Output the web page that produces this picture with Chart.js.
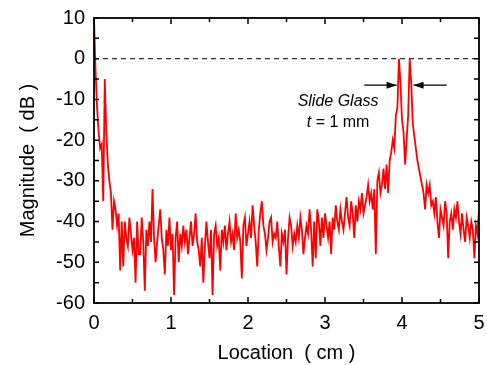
<!DOCTYPE html>
<html>
<head>
<meta charset="utf-8">
<script src="https://cdn.jsdelivr.net/npm/chart.js@4"></script>
<style>
html, body { margin: 0; padding: 0; background: #fff; }
#wrap { width: 487px; height: 365px; }
</style>
</head>
<body>
<div id="wrap"><canvas id="chart" width="487" height="365"></canvas></div>
<script>
// sample spacing along the scan (cm)
const step = 0.02;

// magnitude in dB, one value every 0.02 cm from 0 to 5 cm
const magnitude = [
  10, -3, -12, -18, -22, -21, -35, -5, -18, -26,
  -30, -33, -42, -35, -37, -41, -38, -52, -40, -51,
  -40, -44, -46, -39, -43, -47, -44, -55, -40, -48,
  -48, -39, -45, -57, -42, -46, -40, -45, -32, -44,
  -50, -45, -41, -37, -44, -47, -53, -42, -46, -39,
  -47, -43, -58, -44, -40, -50, -43, -46, -41, -45,
  -42, -48, -44, -40, -46, -43, -38, -45, -47, -51,
  -44, -55, -46, -40, -45, -49, -42, -58, -43, -41,
  -46, -44, -52, -42, -45, -41, -47, -43, -40, -45,
  -43, -47, -38, -44, -42, -45, -54, -41, -39, -46,
  -43, -40, -44, -36, -41, -45, -51, -42, -38, -35,
  -41, -43, -47, -44, -40, -39, -45, -43, -44, -40,
  -46, -51, -43, -45, -42, -53, -44, -39, -41, -46,
  -43, -45, -41, -44, -39, -42, -48, -44, -41, -43,
  -37, -42, -51, -40, -49, -37, -40, -46, -39, -44,
  -38, -41, -44, -40, -48, -39, -42, -36, -40, -42,
  -37, -40, -42, -38, -34, -39, -41, -35, -38, -44,
  -36, -40, -35, -37, -33, -38, -36, -34, -31, -35,
  -33, -37, -32, -48, -30, -28, -33, -31, -27, -32,
  -26, -33, -25, -23, -20, -22, -14, -12, 0, -6,
  -15, -18, -26, -20, -14, 0, -6, -16, -19, -22,
  -25, -27, -29, -31, -33, -37, -31, -33, -31, -36,
  -35, -38, -34, -40, -44, -37, -39, -41, -35, -38,
  -49, -40, -38, -42, -37, -39, -35, -40, -43, -38,
  -42, -45, -39, -41, -44, -40, -42, -49, -41, -43,
  -37
];
const locations = magnitude.map((v, i) => +(i * step).toFixed(2));

// reference level line
const refLevelX = [0, 5];
const refLevelY = [0, 0];

const xTicks = [0, 1, 2, 3, 4, 5];
const yTicks = [10, 0, -10, -20, -30, -40, -50, -60];

const FONT = '"Liberation Sans", Arial, sans-serif';

const framePlugin = {
  id: 'frame',
  afterDraw(chart) {
    const { ctx, chartArea: a, scales: { x, y } } = chart;
    ctx.save();
    ctx.strokeStyle = '#000';
    ctx.lineWidth = 1.8;
    ctx.strokeRect(a.left, a.top, a.right - a.left, a.bottom - a.top);

    // inward ticks on all four sides
    ctx.lineWidth = 1.5;
    ctx.beginPath();
    for (let v = 0; v <= 5.001; v += 0.5) {
      const px = x.getPixelForValue(v);
      const len = Math.abs(v - Math.round(v)) < 0.01 ? 6 : 4;
      ctx.moveTo(px, a.bottom); ctx.lineTo(px, a.bottom - len);
      ctx.moveTo(px, a.top); ctx.lineTo(px, a.top + len);
    }
    for (let v = -60; v <= 10; v += 5) {
      const py = y.getPixelForValue(v);
      ctx.moveTo(a.left, py); ctx.lineTo(a.left + 5, py);
      ctx.moveTo(a.right, py); ctx.lineTo(a.right - 5, py);
    }
    ctx.stroke();

    // annotation
    ctx.fillStyle = '#000';
    ctx.textBaseline = 'middle';
    ctx.textAlign = 'center';
    ctx.font = 'italic 16px ' + FONT;
    const tx = x.getPixelForValue(3.17);
    ctx.fillText('Slide Glass', tx, y.getPixelForValue(-10.4));
    const ty = y.getPixelForValue(-15.8);
    ctx.textAlign = 'left';
    ctx.font = 'italic 16px ' + FONT;
    const wT = ctx.measureText('t').width;
    ctx.font = '16px ' + FONT;
    const rest = ' = 1 mm';
    const wR = ctx.measureText(rest).width;
    const start = tx - (wT + wR) / 2;
    ctx.font = 'italic 16px ' + FONT;
    ctx.fillText('t', start, ty);
    ctx.font = '16px ' + FONT;
    ctx.fillText(rest, start + wT, ty);

    // arrows pointing at the two glass surfaces
    const ay = y.getPixelForValue(-6.5);
    const arrow = (x1, x2) => {
      const dir = Math.sign(x2 - x1);
      ctx.lineWidth = 1.3;
      ctx.beginPath();
      ctx.moveTo(x1, ay); ctx.lineTo(x2, ay);
      ctx.stroke();
      ctx.beginPath();
      ctx.moveTo(x2, ay);
      ctx.lineTo(x2 - dir * 10, ay - 3.5);
      ctx.lineTo(x2 - dir * 10, ay + 3.5);
      ctx.closePath();
      ctx.fill();
    };
    arrow(x.getPixelForValue(3.51), x.getPixelForValue(3.93));
    arrow(x.getPixelForValue(4.58), x.getPixelForValue(4.15));
    ctx.restore();
  }
};

new Chart(document.getElementById('chart'), {
  type: 'line',
  data: {
    datasets: [
      {
        data: refLevelX.map((v, i) => ({ x: v, y: refLevelY[i] })),
        borderColor: '#333',
        borderWidth: 1.2,
        borderDash: [5, 4],
        pointRadius: 0,
        order: 2
      },
      {
        data: locations.map((v, i) => ({ x: v, y: magnitude[i] })),
        borderColor: '#ff0000',
        borderWidth: 1.8,
        pointRadius: 0,
        tension: 0,
        order: 1
      }
    ]
  },
  options: {
    responsive: false,
    animation: false,
    devicePixelRatio: 1,
    layout: { padding: { left: 12, right: 8, top: 18, bottom: 0 } },
    plugins: { legend: { display: false }, tooltip: { enabled: false } },
    scales: {
      x: {
        type: 'linear',
        min: 0,
        max: 5,
        afterBuildTicks: (s) => { s.ticks = xTicks.map(v => ({ value: v })); },
        afterFit: (s) => { s.height = 62; s.paddingLeft = 0; s.paddingRight = 0; },
        grid: { display: false, drawTicks: false },
        border: { display: false },
        ticks: { color: '#000', font: { family: FONT, size: 20 }, padding: 8, maxRotation: 0 },
        title: { display: true, text: 'Location  ( cm )', color: '#000', font: { family: FONT, size: 20 }, padding: { top: 4, bottom: 0 } }
      },
      y: {
        min: -60,
        max: 10,
        afterBuildTicks: (s) => { s.ticks = yTicks.map(v => ({ value: v })); },
        afterFit: (s) => { s.width = 82; s.paddingTop = 0; s.paddingBottom = 0; },
        grid: { display: false, drawTicks: false },
        border: { display: false },
        ticks: { color: '#000', font: { family: FONT, size: 20 }, padding: 9 },
        title: { display: true, text: 'Magnitude  ( dB )', color: '#000', font: { family: FONT, size: 20 }, padding: { bottom: 0 } }
      }
    }
  },
  plugins: [framePlugin]
});
</script>
</body>
</html>
